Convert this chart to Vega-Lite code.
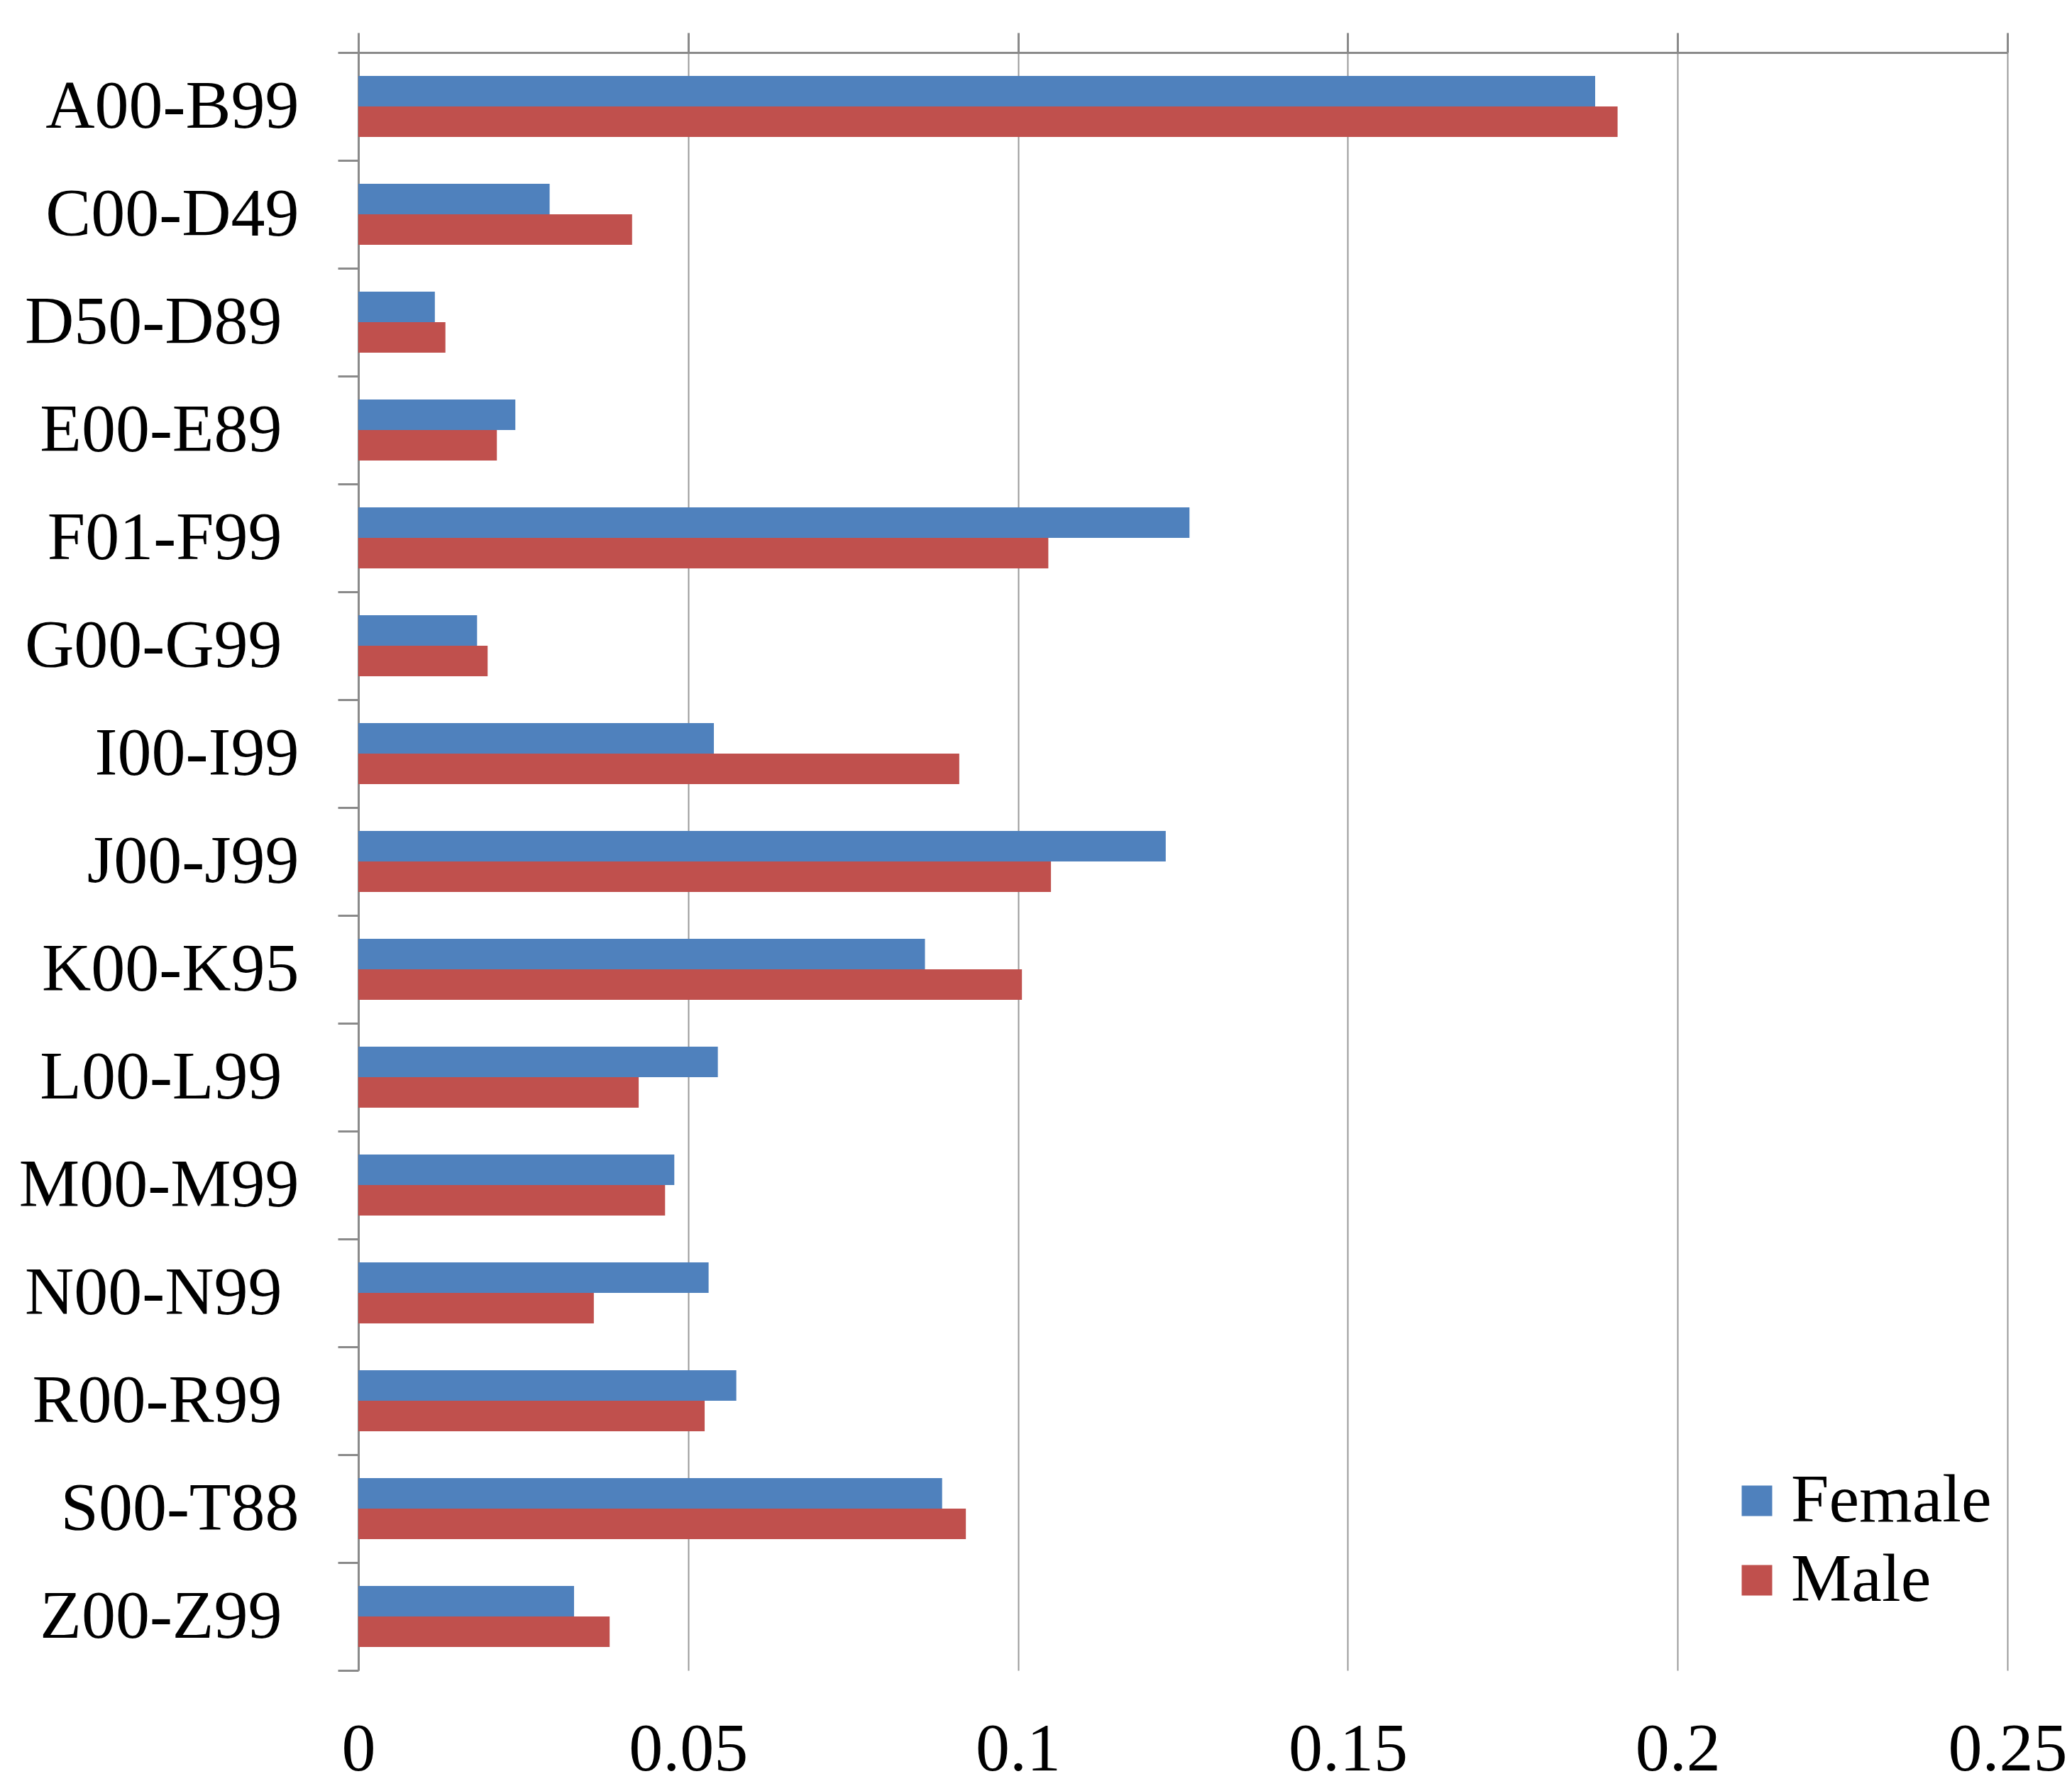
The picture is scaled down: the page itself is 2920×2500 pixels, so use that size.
{
  "$schema": "https://vega.github.io/schema/vega-lite/v6.json",
  "width": 2324,
  "height": 2280,
  "autosize": "none",
  "padding": {"left": 505, "top": 74, "right": 91, "bottom": 146},
  "background": "white",
  "config": {
    "view": {"stroke": null},
    "font": "Liberation Serif"
  },
  "data": {
    "values": [
      {"code": "A00-B99", "sex": "Female", "share": 0.1875},
      {"code": "A00-B99", "sex": "Male", "share": 0.1909},
      {"code": "C00-D49", "sex": "Female", "share": 0.0290},
      {"code": "C00-D49", "sex": "Male", "share": 0.0415},
      {"code": "D50-D89", "sex": "Female", "share": 0.0116},
      {"code": "D50-D89", "sex": "Male", "share": 0.0132},
      {"code": "E00-E89", "sex": "Female", "share": 0.0238},
      {"code": "E00-E89", "sex": "Male", "share": 0.0210},
      {"code": "F01-F99", "sex": "Female", "share": 0.1260},
      {"code": "F01-F99", "sex": "Male", "share": 0.1046},
      {"code": "G00-G99", "sex": "Female", "share": 0.0180},
      {"code": "G00-G99", "sex": "Male", "share": 0.0196},
      {"code": "I00-I99", "sex": "Female", "share": 0.0539},
      {"code": "I00-I99", "sex": "Male", "share": 0.0911},
      {"code": "J00-J99", "sex": "Female", "share": 0.1224},
      {"code": "J00-J99", "sex": "Male", "share": 0.1050},
      {"code": "K00-K95", "sex": "Female", "share": 0.0859},
      {"code": "K00-K95", "sex": "Male", "share": 0.1006},
      {"code": "L00-L99", "sex": "Female", "share": 0.0545},
      {"code": "L00-L99", "sex": "Male", "share": 0.0425},
      {"code": "M00-M99", "sex": "Female", "share": 0.0479},
      {"code": "M00-M99", "sex": "Male", "share": 0.0465},
      {"code": "N00-N99", "sex": "Female", "share": 0.0531},
      {"code": "N00-N99", "sex": "Male", "share": 0.0357},
      {"code": "R00-R99", "sex": "Female", "share": 0.0573},
      {"code": "R00-R99", "sex": "Male", "share": 0.0525},
      {"code": "S00-T88", "sex": "Female", "share": 0.0885},
      {"code": "S00-T88", "sex": "Male", "share": 0.0921},
      {"code": "Z00-Z99", "sex": "Female", "share": 0.0327},
      {"code": "Z00-Z99", "sex": "Male", "share": 0.0381}
    ]
  },
  "mark": {"type": "bar"},
  "encoding": {
    "y": {
      "field": "code",
      "type": "nominal",
      "sort": null,
      "scale": {"paddingInner": 0, "paddingOuter": 0},
      "axis": {
        "title": null,
        "orient": "left",
        "domain": true,
        "domainColor": "#8a8a8a",
        "domainWidth": 3,
        "ticks": true,
        "tickBand": "extent",
        "tickSize": 29,
        "tickColor": "#8a8a8a",
        "tickWidth": 3,
        "labelFont": "Liberation Serif",
        "labelFontSize": 96,
        "labelColor": "black",
        "labelLimit": 0,
        "labelPadding": {
          "condition": {
            "test": "indexof(['D50-D89','E00-E89','F01-F99','G00-G99','L00-L99','N00-N99','R00-R99','Z00-Z99'], datum.value) >= 0",
            "value": 79
          },
          "value": 55
        }
      }
    },
    "yOffset": {
      "field": "sex",
      "type": "nominal",
      "sort": ["Female", "Male"],
      "scale": {"paddingInner": 0, "paddingOuter": 0.767}
    },
    "x": {
      "field": "share",
      "type": "quantitative",
      "scale": {"domain": [0, 0.25], "nice": false},
      "axis": {
        "title": null,
        "orient": "top",
        "values": [0, 0.05, 0.1, 0.15, 0.2, 0.25],
        "format": "~g",
        "domain": true,
        "domainColor": "#8a8a8a",
        "domainWidth": 3,
        "ticks": true,
        "tickSize": 28,
        "tickColor": "#8a8a8a",
        "tickWidth": 3,
        "grid": true,
        "gridColor": "#9a9a9a",
        "gridWidth": 2,
        "labelFont": "Liberation Serif",
        "labelFontSize": 96,
        "labelColor": "black",
        "labelBaseline": "alphabetic",
        "labelPadding": -2448,
        "labelFlush": false,
        "labelOverlap": false,
        "labelBound": false,
        "labelLimit": 0
      }
    },
    "color": {
      "field": "sex",
      "type": "nominal",
      "scale": {"domain": ["Female", "Male"], "range": ["#4F81BD", "#C0504D"]},
      "legend": {
        "title": null,
        "orient": "none",
        "legendX": 1923,
        "legendY": 1993,
        "padding": 0,
        "symbolType": "square",
        "symbolSize": 1849,
        "symbolStrokeWidth": 0,
        "labelFont": "Liberation Serif",
        "labelFontSize": 96,
        "labelColor": "black",
        "labelOffset": 0,
        "labelLimit": 0,
        "rowPadding": 16
      }
    }
  }
}
